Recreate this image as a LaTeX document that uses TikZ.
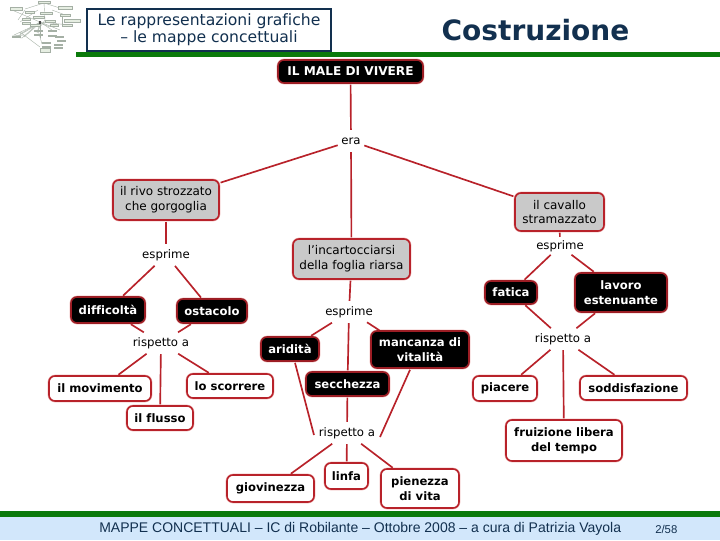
\documentclass[tikz,border=0pt]{standalone}
\usepackage{fontspec}
\usetikzlibrary{calc}
\setmainfont[Ligatures=NoCommon]{DejaVu Sans}
\newfontfamily\foot{Liberation Sans}
\definecolor{linkred}{HTML}{B8222A}
\definecolor{halo}{HTML}{EDB4B4}
\definecolor{barg}{HTML}{0B7A0B}
\definecolor{footbg}{HTML}{D2E7FB}
\definecolor{navy}{HTML}{12304F}
\definecolor{thumb}{HTML}{A5B0A5}
\definecolor{thumbbox}{HTML}{E6EEE2}
\tikzset{
  sz/.style 2 args={minimum width=#1*0.75pt,minimum height=#2*0.75pt},
  base/.style={rounded corners=4.5pt,draw=linkred,line width=1.2pt,inner sep=0pt,align=center,
     font=\fontsize{9}{11.2}\selectfont,preaction={draw=halo,line width=2pt}},
  blackbox/.style={base,fill=black,text=white,font=\fontsize{8.7}{11.2}\selectfont\bfseries,draw=linkred!85!black},
  whitebox/.style={base,fill=white,text=black,font=\fontsize{8.7}{11.2}\selectfont\bfseries},
  greybox/.style={base,fill=black!21},
  lbl/.style={inner xsep=2pt,inner ysep=0pt,minimum height=15pt,font=\fontsize{8.8}{11}\selectfont},
  link/.style={draw=linkred,line width=1.25pt,shorten >=0.6pt,shorten <=0.6pt},
  rawlink/.style={draw=linkred,line width=1.25pt},
  tl/.style={draw=thumb,line width=0.3pt},
  tb/.style={draw=thumb,fill=thumbbox,line width=0.25pt},
}
\begin{document}
\begin{tikzpicture}[x=0.75pt,y=-0.75pt]
\useasboundingbox (0,0) rectangle (720,540);
% thumbnail
\foreach \a/\b/\c/\d in {44/3/25/9,44/3/60/8,44/3/45/20,38/10/20/22,52/10/68/16,25/10/18/20,45/20/38/30,62/16/62/24,40/22/40/22,40/22/22/38,40/22/60/30,40/22/70/25,40/22/12/10,22/38/12/37,40/22/20/34,40/22/52/30,40/23/14/35,40/23/24/37,40/23/40/38,40/23/50/27,40/23/37/33,40/23/18/36}{\draw[tl] (\a,\b)--(\c,\d);}
\foreach \a/\b/\c/\d in {38/1/50/3,10/7/22/10,58/6/72/9,25/11/34/13,40/12/52/14,60/14/70/16,33/16/44/18,22/18/30/20,45/20/55/22,64/19/80/22,22/22/30/24,30/24/40/26,50/24/58/26,62/24/72/26}{\draw[tb] (\a,\b) rectangle (\c,\d);}
\foreach \p in {(12,36),(34,30),(34,34),(48,30),(48,35),(55,36),(57,40),(42,42),(42,46),(54,44),(54,47)}{\fill[thumb] \p ++(0,0) rectangle ++(9,2);}
\draw[thumb,line width=0.3pt] (20,32)--(40,47) (25,35)--(12,36) (38,30)--(42,44);
\draw[tb] (40,48) rectangle (50,52);
\fill[black!70] (39,21) rectangle (40.5,24);
% header
\fill[barg] (76,52) rectangle (720,57);
\node[draw=navy,line width=0.8pt,fill=white,sz={244}{42},inner sep=0pt,align=center,text=navy,font=\fontsize{11.7}{12.8}\selectfont] (title) at (209,30) {Le rappresentazioni grafiche\\– le mappe concettuali};
\node[text=navy,inner sep=0pt,font=\fontsize{21}{24}\selectfont\bfseries] (head) at (535.5,30) {Costruzione};
% footer
\fill[footbg] (0,516) rectangle (720,540);
\fill[barg] (0,511) rectangle (720,517);
\node[anchor=west,inner sep=0pt,text=navy,font=\foot\fontsize{10.5}{12}\selectfont] (foottext) at (99,528.5) {MAPPE CONCETTUALI – IC di Robilante – Ottobre 2008 – a cura di Patrizia Vayola};
\node[anchor=west,inner sep=0pt,text=navy,font=\foot\fontsize{8.5}{9}\selectfont] (pageno) at (655,529) {2/58};
% nodes
\node[blackbox,sz={145}{23},font=\fontsize{9.1}{11.2}\selectfont\bfseries] (male) at (350.5,71.5) {IL MALE DI VIVERE};
\node[lbl] (era) at (351,141) {era};
\node[greybox,sz={106}{40}] (rivo) at (166,200) {il rivo strozzato\\che gorgoglia};
\node[greybox,sz={89}{38}] (cavallo) at (559.5,212) {il cavallo\\stramazzato};
\node[greybox,sz={117}{40}] (foglia) at (351.5,259) {l{\char39}incartocciarsi\\della foglia riarsa};
\node[lbl] (esp1) at (166,255) {esprime};
\node[lbl] (esp2) at (349,312) {esprime};
\node[lbl,minimum height=12pt] (esp3) at (560,246) {esprime};
\node[blackbox,sz={74}{26}] (diff) at (108,310) {difficoltà};
\node[blackbox,sz={70}{24}] (osta) at (212,311) {ostacolo};
\node[blackbox,sz={52}{23}] (fatica) at (511,292.5) {fatica};
\node[blackbox,sz={92}{39}] (lavoro) at (621,292.5) {lavoro\\estenuante};
\node[blackbox,sz={58}{24}] (arid) at (290,349) {aridità};
\node[blackbox,sz={98}{37}] (manc) at (420,349.5) {mancanza di\\vitalità};
\node[blackbox,sz={83}{24}] (secc) at (347.5,384) {secchezza};
\node[lbl] (ris1) at (161,343) {rispetto a};
\node[lbl] (ris2) at (563,339) {rispetto a};
\node[lbl] (ris3) at (347,433) {rispetto a};
\node[whitebox,sz={102}{25}] (mov) at (100,388.5) {il movimento};
\node[whitebox,sz={86}{24}] (scor) at (230,386) {lo scorrere};
\node[whitebox,sz={66}{24}] (flusso) at (160,418) {il flusso};
\node[whitebox,sz={64}{25}] (piac) at (505,388.5) {piacere};
\node[whitebox,sz={107}{24}] (sodd) at (633.5,388) {soddisfazione};
\node[whitebox,sz={116}{41}] (fruiz) at (564,440.5) {fruizione libera\\del tempo};
\node[whitebox,sz={87}{27}] (giov) at (270.5,488.5) {giovinezza};
\node[whitebox,sz={43}{26}] (linfa) at (346.5,476) {linfa};
\node[whitebox,sz={78}{39}] (pien) at (420,488.5) {pienezza\\di vita};
% connectors
\foreach \a/\b in {male/era,era/rivo,era/foglia,era/cavallo,rivo/esp1,esp1/diff,esp1/osta,diff/ris1,osta/ris1,ris1/mov,ris1/flusso,ris1/scor,foglia/esp2,esp2/arid,esp2/secc,secc/ris3,ris3/giov,ris3/linfa,ris3/pien,cavallo/esp3,esp3/fatica,esp3/lavoro,fatica/ris2,lavoro/ris2,ris2/piac,ris2/fruiz,ris2/sodd}{\draw[link] (\a) -- (\b);}
\draw[rawlink] ($(esp2.south)+(18,0)$) -- ($(manc.north west)+(9,0)$);
\draw[rawlink] ($(arid.south)+(5,1)$) -- ($(ris3.west)+(-2,2)$);
\draw[rawlink] ($(manc.south)+(-10,1)$) -- ($(ris3.east)+(2,4)$);
\end{tikzpicture}
\end{document}
